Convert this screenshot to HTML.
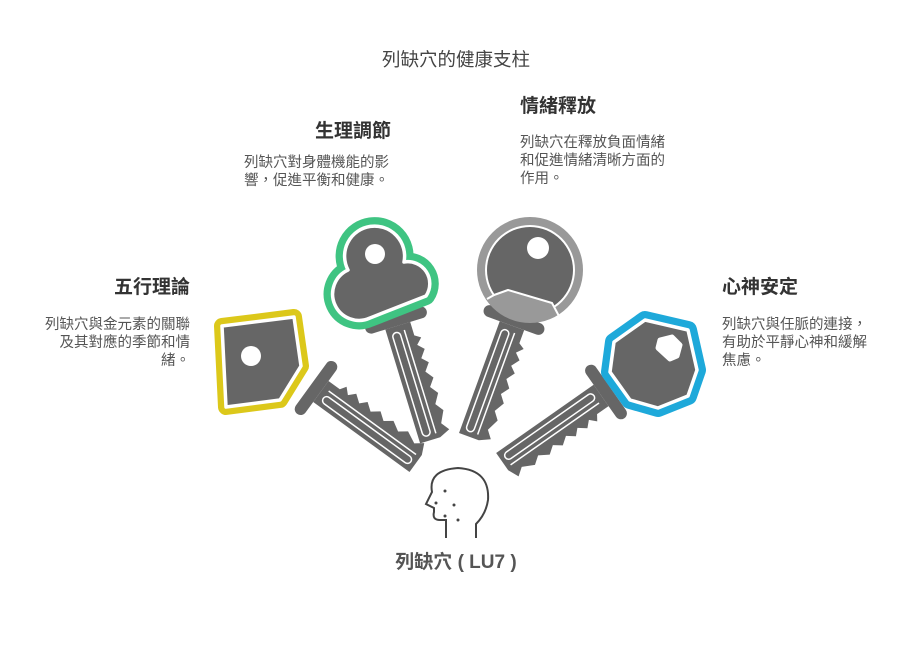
<!DOCTYPE html>
<html><head><meta charset="utf-8"><style>
body{margin:0;background:#fff;width:912px;height:648px;overflow:hidden;position:relative;font-family:"Liberation Sans","Noto Sans CJK TC",sans-serif}
.t{position:absolute;color:#555;font-size:14.5px;line-height:18px;white-space:nowrap}
.h{position:absolute;color:#333;font-size:19px;line-height:22px;font-weight:bold;white-space:nowrap}
</style></head><body>
<div class="t" style="left:0;width:912px;top:48px;text-align:center;font-size:18.5px;line-height:24px;color:#444">列缺穴的健康支柱</div>
<div class="h" style="left:90px;top:277px;width:100px;text-align:right">五行理論</div>
<div class="t" style="left:10px;top:316px;width:180px;text-align:right">列缺穴與金元素的關聯<br>及其對應的季節和情<br>緒。</div>
<div class="h" style="left:315px;top:121px">生理調節</div>
<div class="t" style="left:244px;top:154px;width:160px">列缺穴對身體機能的影<br>響，促進平衡和健康。</div>
<div class="h" style="left:520px;top:96px">情緒釋放</div>
<div class="t" style="left:520px;top:134px;width:160px">列缺穴在釋放負面情緒<br>和促進情緒清晰方面的<br>作用。</div>
<div class="h" style="left:722px;top:277px">心神安定</div>
<div class="t" style="left:722px;top:316px;width:170px">列缺穴與任脈的連接，<br>有助於平靜心神和緩解<br>焦慮。</div>
<div class="h" style="left:0;width:912px;top:552px;text-align:center;color:#555">列缺穴 ( LU7 )</div>
<svg width="912" height="648" style="position:absolute;left:0;top:0">
<defs>
<g id="sh">
<rect x="-32" y="-6" width="64" height="12" rx="6" fill="#666"/>
<path d="M-13,6 L13,6 L13,20 L19,24 L13,30 L19,36 L13,44 L19,50 L13,58 L19,66 L13,74 L19,82 L13,92 L19,100 L13,112 L19,120 L8,125 L-13,125 Z" fill="#666"/>
<rect x="-8" y="12" width="8" height="108" rx="4" fill="none" stroke="#fff" stroke-width="1.5"/>
<line x1="5" y1="12" x2="5" y2="120" stroke="#fff" stroke-width="1.5"/>
</g>
<clipPath id="gc"><polygon points="470,200 600,200 600,320 560,318 552,303 508,290 485,300 470,300"/></clipPath>
</defs>
<use href="#sh" transform="translate(316,388) rotate(-54)"/>
<use href="#sh" transform="translate(396,320) rotate(-17)"/>
<use href="#sh" transform="translate(514,320) rotate(20)"/>
<use href="#sh" transform="translate(606,392) rotate(55)"/>
<!-- yellow -->
<path d="M222,326 L294,317 L301,366 L280,400 L226,407 Z" fill="#DCC81A" stroke="#DCC81A" stroke-width="16" stroke-linejoin="round"/>
<path d="M222,326 L294,317 L301,366 L280,400 L226,407 Z" fill="#666" stroke="#fff" stroke-width="3.5" stroke-linejoin="round"/>
<circle cx="251" cy="356" r="10" fill="#fff"/>
<!-- green -->
<path d="M348,270 A30,30 0 1 1 404,262 A22,22 0 0 1 426,296 L370,318 A26,26 0 0 1 348,270 Z" fill="#3FC482" stroke="#3FC482" stroke-width="18" stroke-linejoin="round"/>
<path d="M348,270 A30,30 0 1 1 404,262 A22,22 0 0 1 426,296 L370,318 A26,26 0 0 1 348,270 Z" fill="#666" stroke="#fff" stroke-width="3.5" stroke-linejoin="round"/>
<circle cx="375" cy="254" r="10" fill="#fff"/>
<!-- gray -->
<circle cx="530" cy="270" r="53" fill="#999"/>
<circle cx="530" cy="270" r="45" fill="#fff" clip-path="url(#gc)"/>
<circle cx="530" cy="270" r="43" fill="#666" clip-path="url(#gc)"/>
<polyline points="487,299 494,295 508,290 552,303 560,318" fill="none" stroke="#fff" stroke-width="2" stroke-linejoin="round"/>
<circle cx="538" cy="248" r="11" fill="#fff"/>
<!-- blue -->
<path d="M614,342 L645,320 L688,330 L697,370 L688,396 L658,408 L630,400 L610,372 Z" fill="#1EA9DA" stroke="#1EA9DA" stroke-width="18" stroke-linejoin="round"/>
<path d="M614,342 L645,320 L688,330 L697,370 L688,396 L658,408 L630,400 L610,372 Z" fill="#666" stroke="#fff" stroke-width="3.5" stroke-linejoin="round"/>
<path d="M660,340 L672,337 L680,345 L677,356 L670,359 L658,348 Z" fill="#fff" stroke="#fff" stroke-width="5" stroke-linejoin="round"/>
<!-- head -->
<path d="M446,538 L446,520 L440,520 Q432,520 434,512 L434,508 L426,504 L432,492 Q428,470 458,468 Q490,470 488,500 Q486,514 476,524 L476,538" fill="none" stroke="#444" stroke-width="2"/>
<g fill="#444"><circle cx="445" cy="491" r="1.5"/><circle cx="436" cy="503" r="1.5"/><circle cx="454" cy="505" r="1.5"/><circle cx="445" cy="516" r="1.5"/><circle cx="458" cy="520" r="1.5"/></g>
</svg>
</body></html>
